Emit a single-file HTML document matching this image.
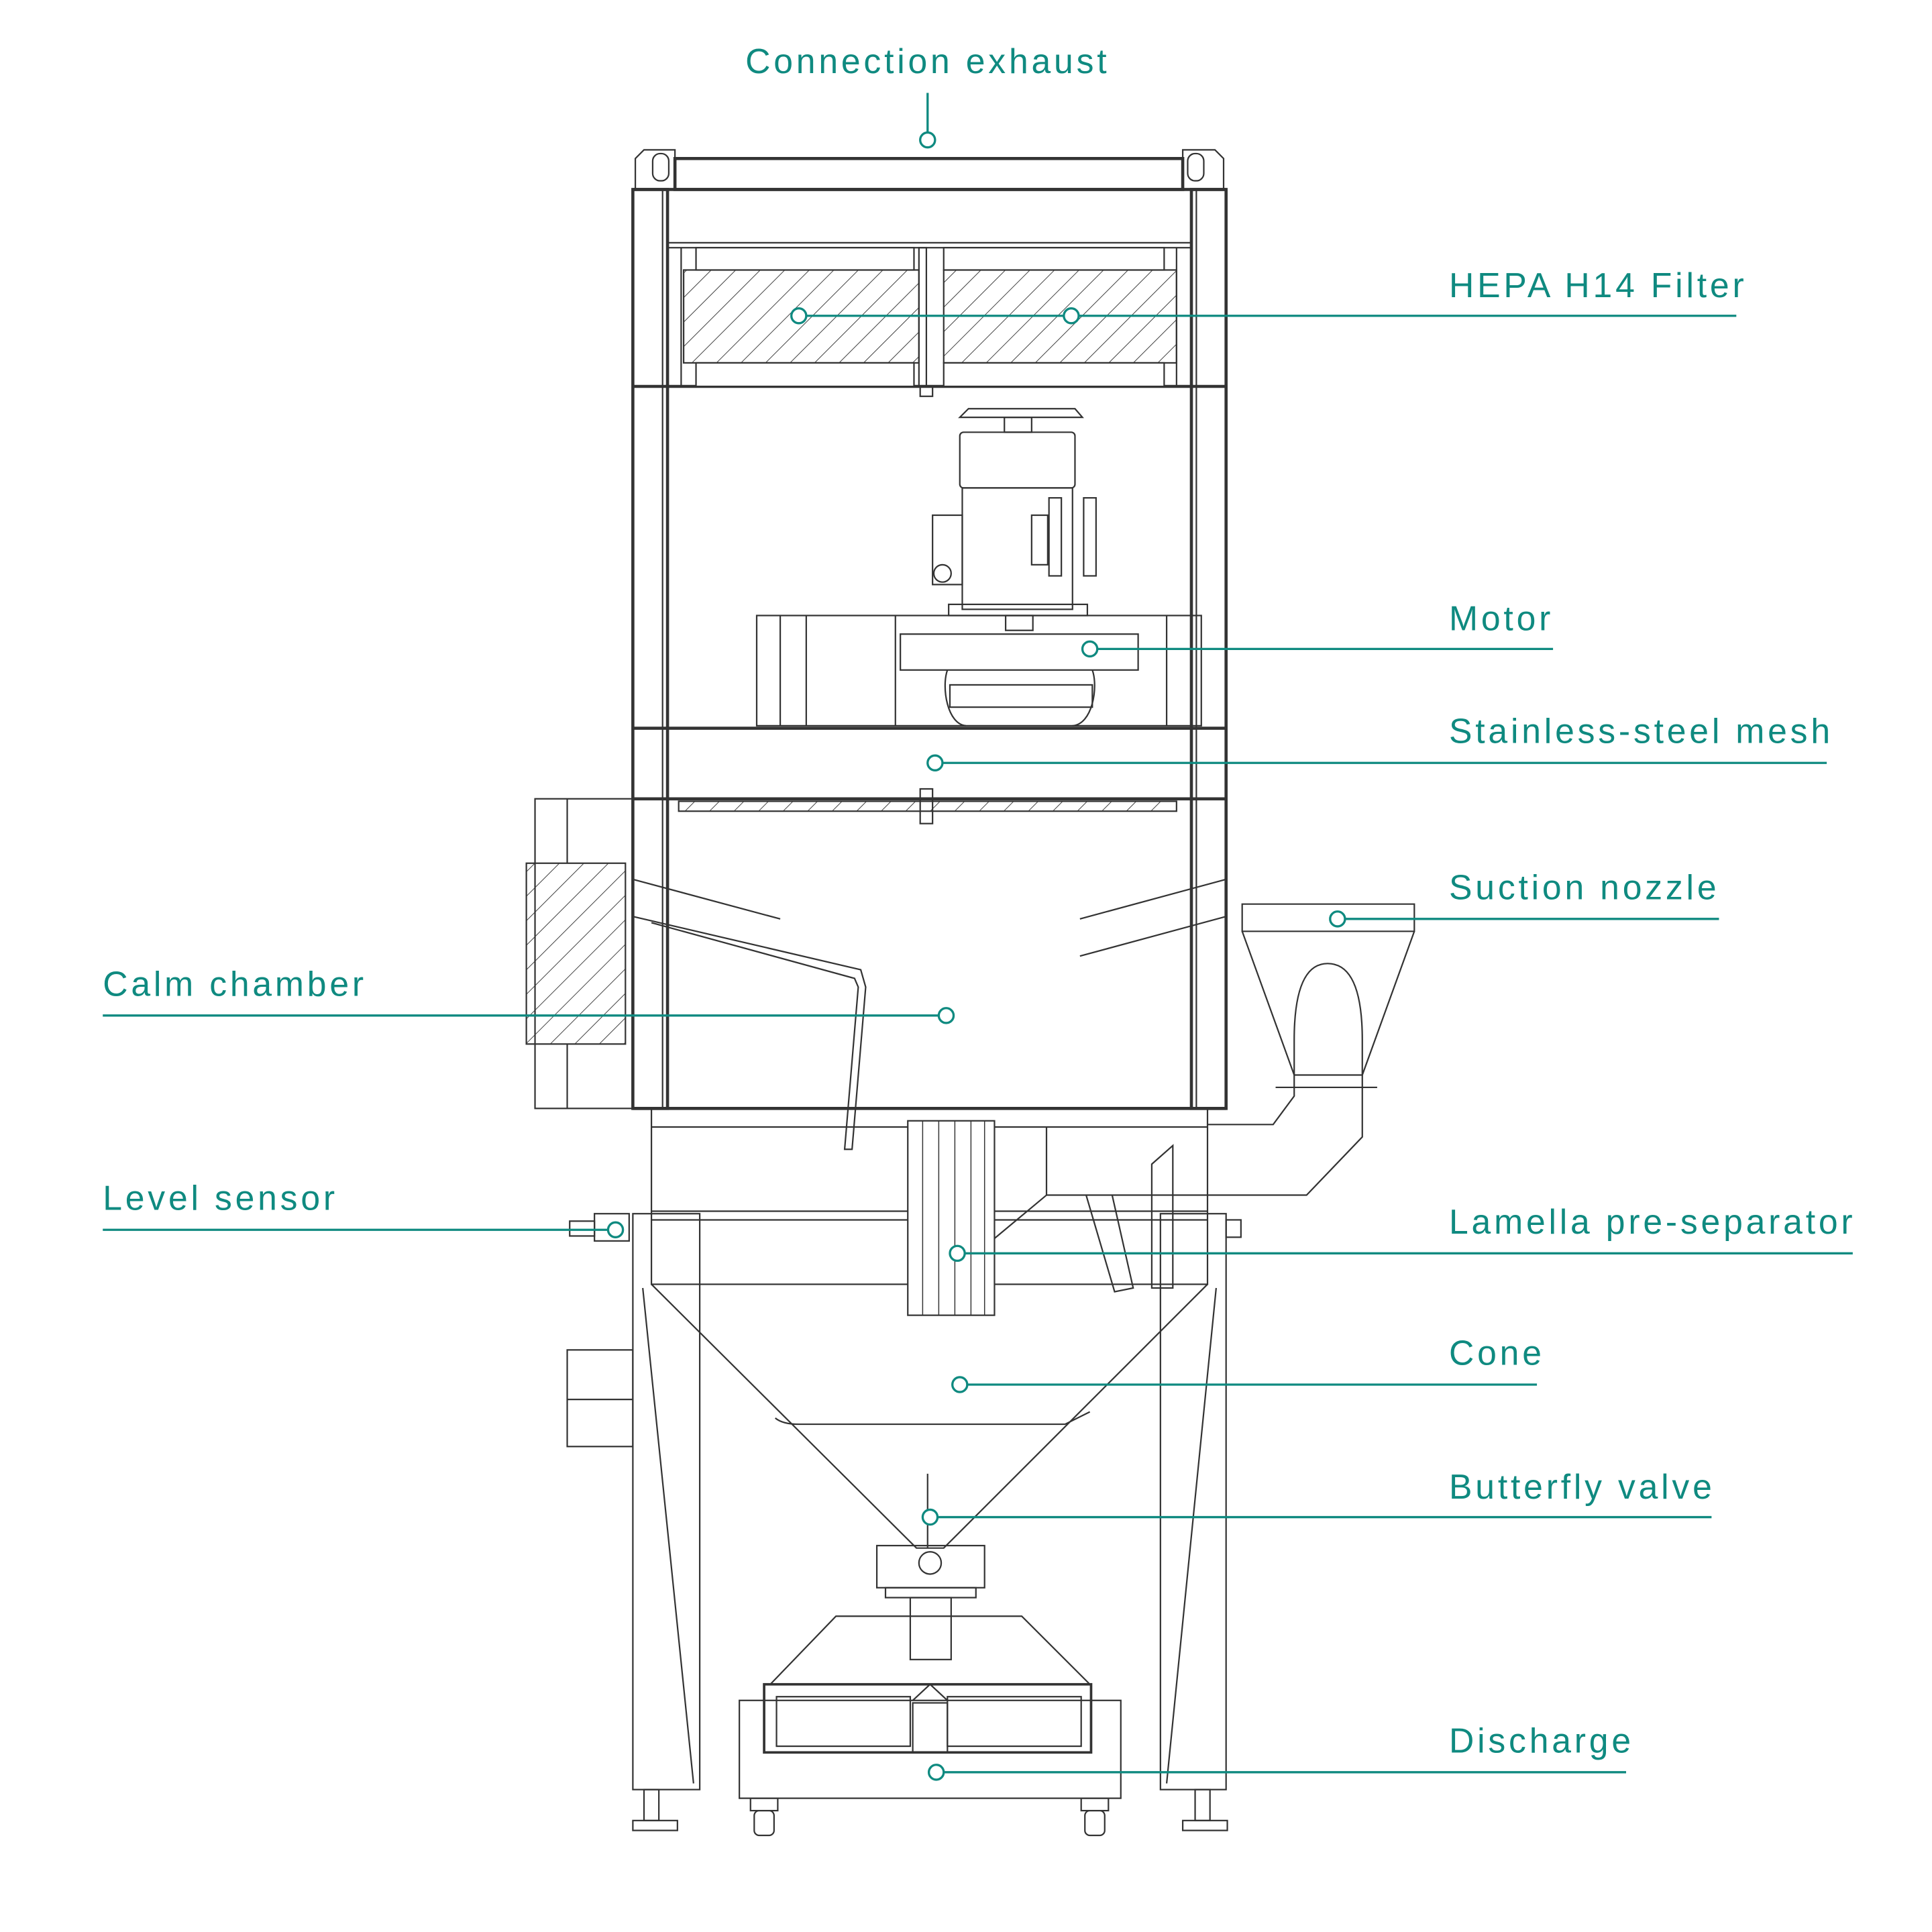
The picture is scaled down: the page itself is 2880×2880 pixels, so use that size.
<!DOCTYPE html>
<html><head><meta charset="utf-8"><style>
html,body{margin:0;padding:0;background:#fff}
svg{display:block}
text{font-family:"Liberation Sans",sans-serif;font-size:28px;fill:#0f8a80;letter-spacing:2.6px}
</style></head><body>
<svg width="2880" height="2880" viewBox="0 0 1560 1560" xmlns="http://www.w3.org/2000/svg">
<defs>
<pattern id="h" width="14" height="14" patternUnits="userSpaceOnUse" patternTransform="rotate(45)">
<line x1="0" y1="0" x2="0" y2="14" stroke="#333" stroke-width="1"/></pattern>
</defs>
<g fill="none" stroke="#333" stroke-width="1.2">
<rect x="545" y="128" width="410" height="25" stroke-width="2.5"/>
<path d="M513 153 V128 L520 121 H545 V153 M988 153 V128 L981 121 H955 V153"/>
<rect x="527" y="124" width="13" height="22" rx="6"/>
<rect x="959" y="124" width="13" height="22" rx="6"/>
<rect x="511" y="153" width="28" height="742" stroke-width="2.5"/>
<rect x="962" y="153" width="28" height="742" stroke-width="2.5"/>
<line x1="535" y1="153" x2="535" y2="895"/><line x1="966" y1="153" x2="966" y2="895"/>
<g stroke-width="2.5">
<line x1="511" y1="153" x2="990" y2="153"/>
<line x1="511" y1="312" x2="990" y2="312"/>
<line x1="511" y1="588" x2="990" y2="588"/>
<line x1="511" y1="645" x2="990" y2="645"/>
<line x1="511" y1="895" x2="990" y2="895"/>
</g>
<rect x="539" y="196" width="423" height="4"/>
<rect x="552" y="218" width="190" height="75" fill="url(#h)"/>
<rect x="762" y="218" width="188" height="75" fill="url(#h)"/>
<rect x="562" y="200" width="176" height="18" fill="#fff"/><rect x="762" y="200" width="178" height="18" fill="#fff"/>
<rect x="562" y="293" width="176" height="19" fill="#fff"/><rect x="762" y="293" width="178" height="19" fill="#fff"/>
<line x1="550" y1="200" x2="550" y2="312"/><line x1="950" y1="200" x2="950" y2="312"/>
<rect x="742" y="200" width="6" height="112"/>
<rect x="743" y="312" width="10" height="8"/>
<path d="M775 337 L782 330 H868 L874 337 Z"/>
<rect x="811" y="337" width="22" height="12"/>
<rect x="775" y="349" width="93" height="45" rx="3"/>
<rect x="777" y="394" width="89" height="98"/>
<rect x="753" y="416" width="24" height="56"/>
<circle cx="761" cy="463" r="7"/>
<rect x="833" y="416" width="13" height="40"/>
<rect x="847" y="402" width="10" height="63"/><rect x="875" y="402" width="10" height="63"/>
<rect x="766" y="488" width="112" height="9"/>
<rect x="611" y="497" width="359" height="89"/>
<line x1="630" y1="497" x2="630" y2="586"/><line x1="651" y1="497" x2="651" y2="586"/>
<line x1="723" y1="497" x2="723" y2="586"/><line x1="942" y1="497" x2="942" y2="586"/>
<rect x="727" y="512" width="192" height="29"/>
<path d="M765 541 C760 555 765 585 780 586 M882 541 C887 555 882 585 866 586"/>
<rect x="767" y="553" width="115" height="18"/>
<rect x="812" y="497" width="22" height="12"/>
<rect x="548" y="647" width="402" height="8" fill="url(#h)"/>
<rect x="743" y="637" width="10" height="28"/>
<rect x="432" y="645" width="79" height="250"/>
<rect x="425" y="697" width="80" height="146" fill="url(#h)"/>
<line x1="458" y1="645" x2="458" y2="697"/><line x1="458" y1="843" x2="458" y2="895"/>
<path d="M511 710 L630 742 M511 740 L695 783 L699 797 L688 928 L682 928 L693 797 L690 790 L526 745"/>
<path d="M990 710 L872 742 M990 740 L872 772"/>
<rect x="526" y="895" width="449" height="142"/>
<path d="M526 910 H975 M526 978 H975 M526 985 H975"/>
<path d="M526 1037 L740 1250 H762 L975 1037"/>
<path d="M626 1145 Q632 1150 645 1150 H860 L880 1140"/>
<rect x="733" y="905" width="70" height="157" fill="#fff"/>
<g stroke-width="0.8"><line x1="745" y1="905" x2="745" y2="1062"/><line x1="758" y1="905" x2="758" y2="1062"/><line x1="771" y1="905" x2="771" y2="1062"/><line x1="784" y1="905" x2="784" y2="1062"/><line x1="795" y1="905" x2="795" y2="1062"/></g>
<path d="M803 1000 L845 965 V910 M845 965 H975"/>
<path d="M877 965 L900 1043 L915 1040 L898 965"/>
<path d="M930 940 L947 925 V1040 H930 Z"/>
<path d="M1003 730 H1142 V752 H1003 Z"/>
<path d="M1003 752 L1045 868 H1100 L1142 752"/>
<path d="M1045 868 V840 Q1045 778 1072 778 Q1100 778 1100 840 V868"/>
<path d="M1030 878 H1112 M1045 868 V885 L1028 908 H975 M1100 868 V918 L1055 965 H975"/>
<rect x="511" y="980" width="54" height="465"/>
<rect x="937" y="980" width="53" height="465"/>
<path d="M519 1040 L560 1440 M982 1040 L942 1440"/>
<rect x="458" y="1090" width="53" height="78"/><line x1="458" y1="1130" x2="511" y2="1130"/>
<rect x="460" y="986" width="20" height="12"/><rect x="480" y="980" width="28" height="22"/>
<rect x="990" y="985" width="12" height="14"/>
<line x1="749" y1="1190" x2="749" y2="1250"/>
<rect x="708" y="1248" width="87" height="34"/>
<rect x="715" y="1282" width="73" height="8"/>
<circle cx="751" cy="1262" r="9"/>
<rect x="735" y="1290" width="33" height="50"/>
<path d="M622 1360 L675 1305 H825 L880 1360 Z"/>
<rect x="597" y="1373" width="308" height="79"/>
<rect x="617" y="1360" width="264" height="55" stroke-width="2"/>
<rect x="627" y="1370" width="108" height="40"/><rect x="765" y="1370" width="108" height="40"/>
<path d="M737 1373 L751 1360 L765 1373"/>
<rect x="737" y="1375" width="28" height="40"/>
<rect x="606" y="1452" width="22" height="10"/><rect x="609" y="1462" width="16" height="20" rx="4"/>
<rect x="873" y="1452" width="22" height="10"/><rect x="876" y="1462" width="16" height="20" rx="4"/>
<rect x="520" y="1445" width="12" height="25"/><rect x="511" y="1470" width="36" height="8"/>
<rect x="965" y="1445" width="12" height="25"/><rect x="955" y="1470" width="36" height="8"/>
</g>
<g stroke="#0f8a80" stroke-width="1.8" fill="none">
<line x1="749" y1="75" x2="749" y2="107"/>
<line x1="651" y1="255" x2="1402" y2="255"/>
<line x1="886" y1="524" x2="1254" y2="524"/>
<line x1="761" y1="616" x2="1475" y2="616"/>
<line x1="1086" y1="742" x2="1388" y2="742"/>
<line x1="83" y1="820" x2="758" y2="820"/>
<line x1="83" y1="993" x2="491" y2="993"/>
<line x1="779" y1="1012" x2="1496" y2="1012"/>
<line x1="781" y1="1118" x2="1241" y2="1118"/>
<line x1="757" y1="1225" x2="1382" y2="1225"/>
<line x1="762" y1="1431" x2="1313" y2="1431"/>
</g>
<g stroke="#0f8a80" stroke-width="1.8" fill="#fff">
<circle cx="749" cy="113" r="6"/><circle cx="645" cy="255" r="6"/><circle cx="865" cy="255" r="6"/>
<circle cx="880" cy="524" r="6"/><circle cx="755" cy="616" r="6"/><circle cx="1080" cy="742" r="6"/>
<circle cx="764" cy="820" r="6"/><circle cx="497" cy="993" r="6"/><circle cx="773" cy="1012" r="6"/>
<circle cx="775" cy="1118" r="6"/><circle cx="751" cy="1225" r="6"/><circle cx="756" cy="1431" r="6"/>
</g>
<text x="749" y="59" text-anchor="middle">Connection exhaust</text>
<text x="1170" y="240">HEPA H14 Filter</text>
<text x="1170" y="509">Motor</text>
<text x="1170" y="600">Stainless-steel mesh</text>
<text x="1170" y="726">Suction nozzle</text>
<text x="83" y="804">Calm chamber</text>
<text x="83" y="977">Level sensor</text>
<text x="1170" y="996">Lamella pre-separator</text>
<text x="1170" y="1102">Cone</text>
<text x="1170" y="1210">Butterfly valve</text>
<text x="1170" y="1415">Discharge</text>
</svg>
</body></html>
